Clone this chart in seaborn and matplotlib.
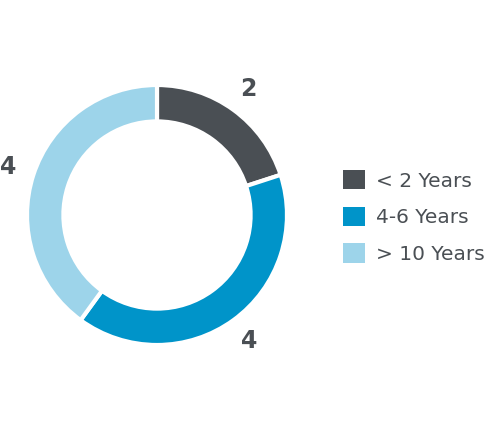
import matplotlib
matplotlib.use("Agg")
import matplotlib.pyplot as plt
import seaborn as sns

# datos del grafico
categorias = ["< 2 Years", "4-6 Years", "> 10 Years"]
valores = [2, 4, 4]
colores = ["#4a4f54", "#0094c9", "#9dd4ea"]

sns.set_theme(style="white")
plt.rcParams["font.family"] = ["DejaVu Sans"]

fig = plt.figure(figsize=(5, 4.3), dpi=100)
# ejes colocados para que el anillo quede a la izquierda
ax = fig.add_axes([27 / 500, 85 / 430, 260 / 500, 260 / 430])

wedges, textos = ax.pie(
    valores,
    colors=colores,
    startangle=90,
    counterclock=False,
    radius=1,
    labels=[str(v) for v in valores],
    labeldistance=1.2,
    wedgeprops=dict(width=0.28, edgecolor="white", linewidth=3),
    textprops=dict(color="#4a4f54", fontsize=17, fontweight="bold"),
)
# etiquetas centradas en su posicion
for t in textos:
    t.set_clip_on(False)
    t.set_horizontalalignment("center")
    t.set_verticalalignment("center")
ax.set_xlim(-1, 1)
ax.set_ylim(-1, 1)
ax.set_aspect("equal")
ax.axis("off")

# leyenda a la derecha
leg = fig.legend(
    wedges,
    categorias,
    loc="center left",
    bbox_to_anchor=(325 / 500, 1 - 217 / 430),
    frameon=False,
    fontsize=14.5,
    handlelength=1.1,
    handleheight=1.1,
    handletextpad=0.55,
    labelspacing=0.8,
    labelcolor="#4a4f54",
)
for h in leg.legend_handles:
    h.set_linewidth(0)

fig.savefig("out.png", dpi=100)
